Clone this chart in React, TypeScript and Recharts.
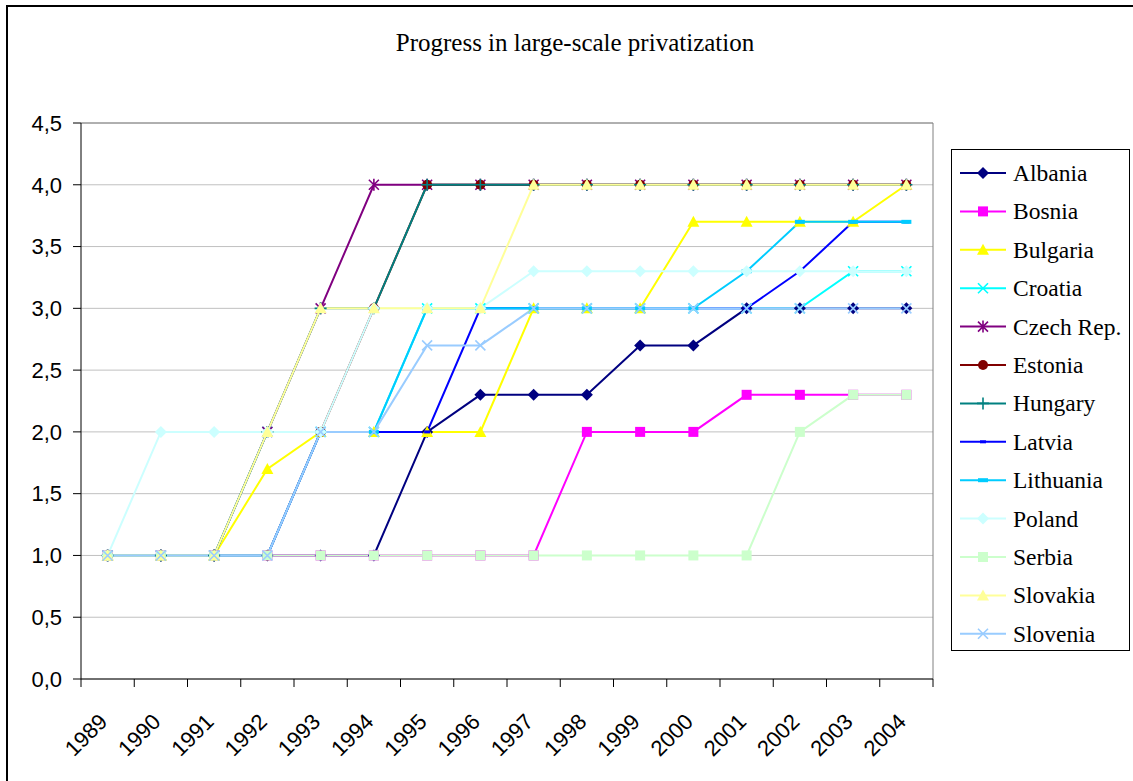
import { LineChart, Line, XAxis, YAxis, CartesianGrid } from 'recharts';

// EBRD transition indicator, large-scale privatization
const years = ['1989', '1990', '1991', '1992', '1993', '1994', '1995', '1996',
    '1997', '1998', '1999', '2000', '2001', '2002', '2003', '2004'];
const yTicks = [0, 0.5, 1, 1.5, 2, 2.5, 3, 3.5, 4, 4.5];

const albania = [1, 1, 1, 1, 1, 1, 2, 2.3, 2.3, 2.3, 2.7, 2.7, 3, 3, 3, 3];
const bosnia = [1, 1, 1, 1, 1, 1, 1, 1, 1, 2, 2, 2, 2.3, 2.3, 2.3, 2.3];
const bulgaria = [1, 1, 1, 1.7, 2, 2, 2, 2, 3, 3, 3, 3.7, 3.7, 3.7, 3.7, 4];
const croatia = [1, 1, 1, 2, 2, 2, 3, 3, 3, 3, 3, 3, 3, 3, 3.3, 3.3];
const czech = [1, 1, 1, 2, 3, 4, 4, 4, 4, 4, 4, 4, 4, 4, 4, 4];
const estonia = [1, 1, 1, 1, 2, 3, 4, 4, 4, 4, 4, 4, 4, 4, 4, 4];
const hungary = [1, 1, 1, 2, 3, 3, 4, 4, 4, 4, 4, 4, 4, 4, 4, 4];
const latvia = [1, 1, 1, 1, 2, 2, 2, 3, 3, 3, 3, 3, 3, 3.3, 3.7, 3.7];
const lithuania = [1, 1, 1, 1, 2, 2, 3, 3, 3, 3, 3, 3, 3.3, 3.7, 3.7, 3.7];
const poland = [1, 2, 2, 2, 2, 3, 3, 3, 3.3, 3.3, 3.3, 3.3, 3.3, 3.3, 3.3, 3.3];
const serbia = [1, 1, 1, 1, 1, 1, 1, 1, 1, 1, 1, 1, 1, 2, 2.3, 2.3];
const slovakia = [1, 1, 1, 2, 3, 3, 3, 3, 4, 4, 4, 4, 4, 4, 4, 4];
const slovenia = [1, 1, 1, 1, 2, 2, 2.7, 2.7, 3, 3, 3, 3, 3, 3, 3, 3];

type Shape = 'diamond' | 'square' | 'triangle' | 'x' | 'star' | 'circle' | 'plus' | 'dash' | 'longdash';

const SERIES: { name: string; values: number[]; color: string; shape: Shape }[] = [
    { name: 'Albania', values: albania, color: '#000080', shape: 'diamond' },
    { name: 'Bosnia', values: bosnia, color: '#FF00FF', shape: 'square' },
    { name: 'Bulgaria', values: bulgaria, color: '#FFFF00', shape: 'triangle' },
    { name: 'Croatia', values: croatia, color: '#00FFFF', shape: 'x' },
    { name: 'Czech Rep.', values: czech, color: '#800080', shape: 'star' },
    { name: 'Estonia', values: estonia, color: '#800000', shape: 'circle' },
    { name: 'Hungary', values: hungary, color: '#008080', shape: 'plus' },
    { name: 'Latvia', values: latvia, color: '#0000FF', shape: 'dash' },
    { name: 'Lithuania', values: lithuania, color: '#00CCFF', shape: 'longdash' },
    { name: 'Poland', values: poland, color: '#CCFFFF', shape: 'diamond' },
    { name: 'Serbia', values: serbia, color: '#CCFFCC', shape: 'square' },
    { name: 'Slovakia', values: slovakia, color: '#FFFF99', shape: 'triangle' },
    { name: 'Slovenia', values: slovenia, color: '#99CCFF', shape: 'x' },
];

const data = years.map((year, i) => {
    const row: Record<string, string | number> = { year };
    SERIES.forEach((s) => { row[s.name] = s.values[i]; });
    return row;
});

const W = 1133;
const H = 781;
const PLOT_LEFT = 81;
const PLOT_RIGHT = 933;
const PLOT_TOP = 123;
const PLOT_BOTTOM = 679;
const Y_AXIS_W = 60;
const X_AXIS_H = 70;
const BAND = (PLOT_RIGHT - PLOT_LEFT) / years.length;

const SANS = '"Liberation Sans", Arial, sans-serif';
const SERIF = '"Liberation Serif", "Times New Roman", serif';

function Marker({ cx, cy, shape, color }: { cx: number; cy: number; shape: Shape; color: string }) {
    switch (shape) {
        case 'diamond':
            return <polygon points={`${cx},${cy - 6} ${cx + 6},${cy} ${cx},${cy + 6} ${cx - 6},${cy}`} fill={color} />;
        case 'square':
            return <rect x={cx - 5} y={cy - 5} width={10} height={10} fill={color} />;
        case 'triangle':
            return <polygon points={`${cx},${cy - 6} ${cx + 6},${cy + 5} ${cx - 6},${cy + 5}`} fill={color} />;
        case 'x':
            return (
                <path d={`M${cx - 5},${cy - 5}L${cx + 5},${cy + 5}M${cx - 5},${cy + 5}L${cx + 5},${cy - 5}`}
                    stroke={color} strokeWidth={1.6} fill="none" />
            );
        case 'star':
            return (
                <path d={`M${cx - 5},${cy - 5}L${cx + 5},${cy + 5}M${cx - 5},${cy + 5}L${cx + 5},${cy - 5}M${cx},${cy - 6}L${cx},${cy + 6}`}
                    stroke={color} strokeWidth={1.6} fill="none" />
            );
        case 'circle':
            return <circle cx={cx} cy={cy} r={5} fill={color} />;
        case 'plus':
            return (
                <path d={`M${cx - 6},${cy}L${cx + 6},${cy}M${cx},${cy - 6}L${cx},${cy + 6}`}
                    stroke={color} strokeWidth={1.6} fill="none" />
            );
        case 'dash':
            return <rect x={cx - 3} y={cy - 1.5} width={6} height={3} fill={color} />;
        case 'longdash':
            return <rect x={cx - 5} y={cy - 2} width={10} height={4} fill={color} />;
    }
    return null;
}

function YearTick({ x, payload, index }: any) {
    const ticks = [x - BAND / 2];
    if (index === years.length - 1) ticks.push(x + BAND / 2);
    const ax = x + 1;
    const ay = PLOT_BOTTOM + 44;
    return (
        <g>
            {ticks.map((tx) => (
                <line key={tx} x1={tx} x2={tx} y1={PLOT_BOTTOM} y2={PLOT_BOTTOM + 8} stroke="#000" />
            ))}
            <text x={ax} y={ay} transform={`rotate(-45 ${ax} ${ay})`} textAnchor="end"
                fontSize={22} fontFamily={SANS} fill="#000">
                {payload.value}
            </text>
        </g>
    );
}

function LegendBox() {
    const rowH = 38.4;
    return (
        <svg width={180} height={503} style={{ position: 'absolute', left: 951, top: 149 }}>
            <rect x={0.5} y={0.5} width={178} height={501} fill="#fff" stroke="#000" />
            {SERIES.map((s, i) => {
                const cy = 24 + i * rowH;
                return (
                    <g key={s.name}>
                        <line x1={9} x2={55} y1={cy} y2={cy} stroke={s.color} strokeWidth={2} />
                        <Marker cx={32} cy={cy} shape={s.shape} color={s.color} />
                        <text x={62} y={cy + 8} fontSize={23.5} fontFamily={SERIF} fill="#000">{s.name}</text>
                    </g>
                );
            })}
        </svg>
    );
}

export default function App() {
    return (
        <div style={{ position: 'absolute', left: 0, top: 0, width: W, height: H, overflow: 'hidden', background: '#fff' }}>
            <div style={{
                position: 'absolute', left: 6, top: 5, width: W + 20, height: H + 20,
                borderLeft: '2px solid #000', borderTop: '2px solid #000',
            }} />
            <div style={{
                position: 'absolute', left: 0, top: 29, width: 1150, textAlign: 'center',
                fontFamily: SERIF, fontSize: 25, color: '#000',
            }}>
                Progress in large-scale privatization
            </div>
            <div style={{ position: 'absolute', left: 0, top: 0 }}>
                <LineChart
                    width={W}
                    height={H}
                    data={data}
                    margin={{
                        top: PLOT_TOP,
                        left: PLOT_LEFT - Y_AXIS_W,
                        right: W - PLOT_RIGHT,
                        bottom: H - PLOT_BOTTOM - X_AXIS_H,
                    }}
                >
                    <CartesianGrid vertical={false} stroke="#c0c0c0" />
                    {/* plot-area frame on the top and right */}
                    <CartesianGrid
                        stroke="#808080"
                        horizontalPoints={[PLOT_TOP]}
                        verticalPoints={[PLOT_RIGHT]}
                    />
                    <XAxis
                        dataKey="year"
                        height={X_AXIS_H}
                        interval={0}
                        padding={{ left: BAND / 2, right: BAND / 2 }}
                        tickLine={false}
                        axisLine={{ stroke: '#000' }}
                        tick={<YearTick />}
                    />
                    <YAxis
                        width={Y_AXIS_W}
                        domain={[0, 4.5]}
                        ticks={yTicks}
                        interval={0}
                        tickSize={8}
                        tickMargin={11}
                        tickLine={{ stroke: '#000' }}
                        axisLine={{ stroke: '#000' }}
                        tick={{ fill: '#000', fontSize: 22, fontFamily: SANS }}
                        tickFormatter={(v: number) => v.toFixed(1).replace('.', ',')}
                    />
                    {SERIES.map((s) => (
                        <Line
                            key={s.name}
                            type="linear"
                            dataKey={s.name}
                            stroke={s.color}
                            strokeWidth={2}
                            isAnimationActive={false}
                            activeDot={false}
                            dot={(p: any) => (
                                <Marker key={`${s.name}-${p.index}`} cx={p.cx} cy={p.cy} shape={s.shape} color={s.color} />
                            )}
                        />
                    ))}
                </LineChart>
            </div>
            <LegendBox />
        </div>
    );
}
